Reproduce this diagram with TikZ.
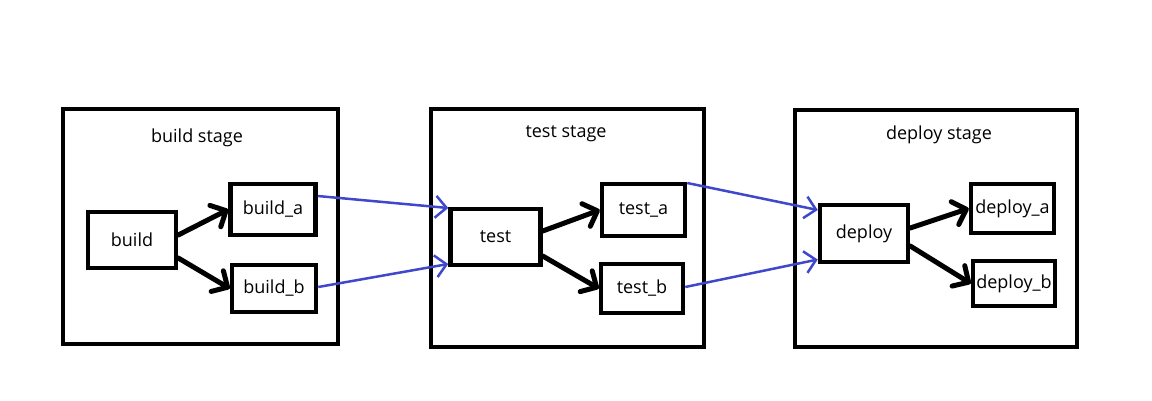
\documentclass[tikz,border=0pt]{standalone}
\usepackage{fontspec}
\setmainfont{Open Sans}
\usetikzlibrary{arrows.meta}
\definecolor{linkblue}{RGB}{63,72,204}
\begin{document}
\begin{tikzpicture}[x=1pt,y=-1pt,
  box/.style={draw,line width=4.5pt,inner sep=0pt,font=\fontsize{18}{21}\selectfont},
  stage/.style={draw,line width=4.5pt,inner sep=0pt},
  title/.style={inner sep=0pt,font=\fontsize{18}{21}\selectfont},
  flow/.style={line width=5pt,line cap=round,-{Straight Barb[length=12pt,width=24pt,round]}},
  link/.style={draw=linkblue,line width=2.5pt,-{Straight Barb[length=11pt,width=22pt]}}]
\useasboundingbox (0,0) rectangle (1152,400);
% stages
\node[stage,minimum width=275pt,minimum height=235pt] (sbuild) at (200.5,226.5) {};
\node[stage,minimum width=273pt,minimum height=238pt] (stest) at (567.5,228) {};
\node[stage,minimum width=282pt,minimum height=237pt] (sdeploy) at (936,228.5) {};
\node[title] (tbuild) at (197,138) {build stage};
\node[title] (ttest) at (566,134) {test stage};
\node[title] (tdeploy) at (939,135) {deploy stage};
% jobs
\node[box,minimum width=88pt,minimum height=56pt] (build) at (132,240) {build};
\node[box,minimum width=85pt,minimum height=51pt] (builda) at (273,209.5) {build\_a};
\node[box,minimum width=84pt,minimum height=47pt] (buildb) at (274,288.5) {build\_b};
\node[box,minimum width=90pt,minimum height=56pt] (test) at (495.5,237) {test};
\node[box,minimum width=83pt,minimum height=52pt] (testa) at (643.5,210) {test\_a};
\node[box,minimum width=82pt,minimum height=49pt] (testb) at (642,288.5) {test\_b};
\node[box,minimum width=88pt,minimum height=57pt] (deploy) at (864,233.5) {deploy};
\node[box,minimum width=83pt,minimum height=49pt] (deploya) at (1012.5,208.5) {deploy\_a};
\node[box,minimum width=82pt,minimum height=45pt] (deployb) at (1014,283.5) {deploy\_b};
% black arrows within stages
\draw[flow] ([yshift=5pt]build.east) -- (builda.west);
\draw[flow] ([yshift=-18pt]build.east) -- (buildb.west);
\draw[flow] ([yshift=6pt]test.east) -- (testa.west);
\draw[flow] ([yshift=-19pt]test.east) -- (testb.west);
\draw[flow] ([yshift=5.5pt]deploy.east) -- (deploya.west);
\draw[flow] ([yshift=-12.5pt]deploy.east) -- (deployb.west);
% blue arrows between stages
\draw[link] ([yshift=13.5pt]builda.east) -- ([yshift=29pt]test.west);
\draw[link] ([yshift=1.5pt]buildb.east) -- ([yshift=-27pt]test.west);
\draw[link] ([yshift=27pt]testa.east) -- ([yshift=23.5pt]deploy.west);
\draw[link] ([yshift=1.5pt]testb.east) -- ([yshift=-26pt]deploy.west);
\end{tikzpicture}
\end{document}
